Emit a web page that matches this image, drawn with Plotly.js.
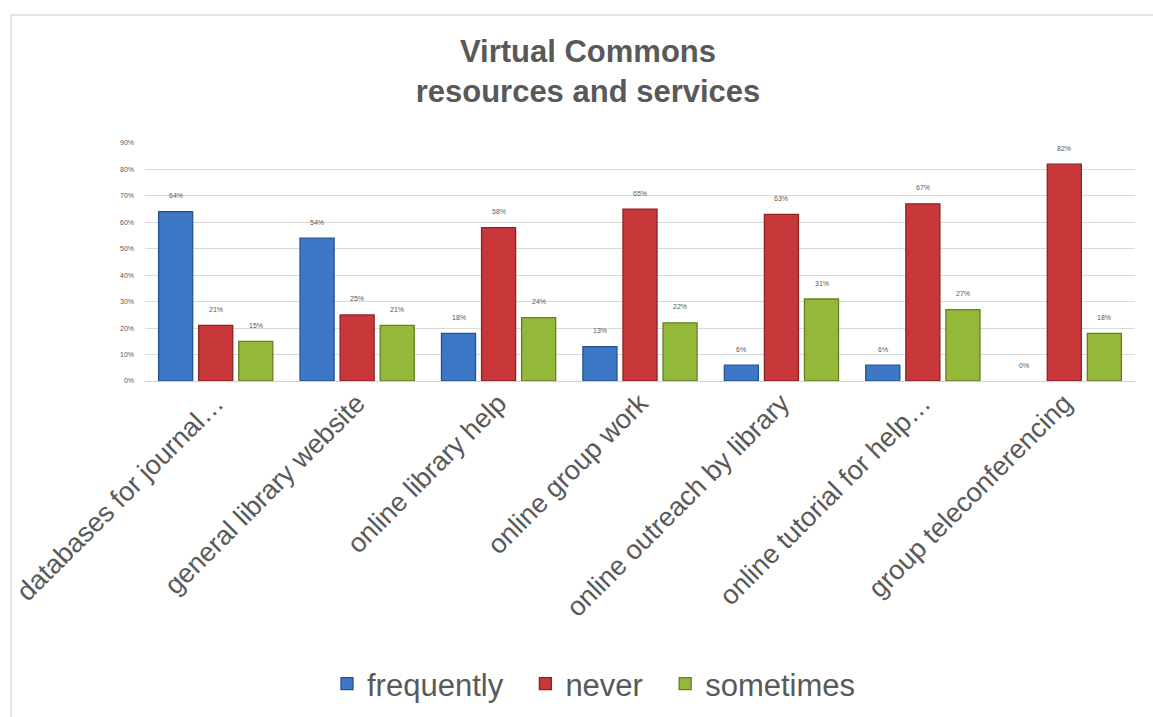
<!DOCTYPE html>
<html>
<head>
<meta charset="utf-8">
<script src="https://cdn.plot.ly/plotly-3.0.1.min.js"></script>
<style>
  html, body { margin: 0; padding: 0; background: #ffffff; overflow: hidden; }
  #chart { position: absolute; left: 0; top: 0; width: 1153px; height: 717px; }
  #frame { position: absolute; left: 10px; top: 14px; width: 1200px; height: 800px;
           border-left: 2px solid #e4e4e4; border-top: 2px solid #e4e4e4; pointer-events: none; }
</style>
</head>
<body>
<div id="chart"></div>
<div id="frame"></div>
<script>
// Survey: how often students use each Virtual Commons resource/service (share of respondents, %)
const categories = [
  "databases for journal…",
  "general library website",
  "online library help",
  "online group work",
  "online outreach by library",
  "online tutorial for help…",
  "group teleconferencing"
];
const frequently = [64, 54, 18, 13, 6, 6, 0];
const never      = [21, 25, 58, 65, 63, 67, 82];
const sometimes  = [15, 21, 24, 22, 31, 27, 18];
const yTicks     = [0, 10, 20, 30, 40, 50, 60, 70, 80, 90];

const seriesNames  = ["frequently", "never", "sometimes"];
const seriesValues = [frequently, never, sometimes];
const fillColors   = ["#3c78c6", "#c8383b", "#93b83a"];
const edgeColors   = ["#24548f", "#8c2326", "#657f22"];

const BARGAP = 0.15;
const GROUPGAP = 0.15;
const textColor = "#595959";
const font = "Liberation Sans, Arial, sans-serif";
const legendPad = "\u00a0\u00a0";   // breathing room between legend entries

const traces = seriesValues.map((vals, i) => ({
  type: "bar",
  name: seriesNames[i] + (i < seriesValues.length - 1 ? legendPad : ""),
  x: categories,
  y: vals,
  marker: {
    color: fillColors[i],
    // no outline on empty bars, so a 0% value leaves no sliver
    line: { color: edgeColors[i], width: vals.map(v => (v > 0 ? 1.3 : 0)) }
  },
  hoverinfo: "x+y+name"
}));

// value labels floating above each bar of the group
const slot = (1 - BARGAP) / seriesValues.length;
const annotations = [];
seriesValues.forEach((vals, s) => {
  const off = (s - (seriesValues.length - 1) / 2) * slot;
  vals.forEach((v, c) => {
    annotations.push({
      xref: "x", yref: "y",
      x: c + off, y: v,
      text: v + "%",
      showarrow: false,
      yanchor: "middle",
      yshift: 16,
      font: { family: font, size: 7, color: textColor }
    });
  });
});

const layout = {
  width: 1153, height: 717,
  margin: { l: 145, r: 18, t: 143, b: 336 },
  paper_bgcolor: "rgba(0,0,0,0)",
  plot_bgcolor: "#ffffff",
  barmode: "group",
  bargap: BARGAP,
  bargroupgap: GROUPGAP,
  title: {
    text: "<b>Virtual Commons<br>resources and services</b>",
    font: { family: font, size: 31, color: textColor },
    x: 588 / 1153, xref: "container", xanchor: "center",
    y: 1 - 62 / 717, yref: "container", yanchor: "top"
  },
  xaxis: {
    type: "category",
    tickangle: -45,
    tickfont: { family: font, size: 27, color: textColor },
    showgrid: false,
    showline: false,
    ticks: "",
    zeroline: false
  },
  yaxis: {
    range: [0, 90],
    tickvals: yTicks,
    ticktext: yTicks.map(t => t + "%"),
    tickfont: { family: font, size: 7, color: textColor },
    showgrid: true,
    gridcolor: "#d9d9d9",
    gridwidth: 1,
    zeroline: true,
    zerolinecolor: "#d0d0d0",
    zerolinewidth: 1,
    showline: false,
    ticks: "",
    ticklabelstandoff: 10
  },
  legend: {
    orientation: "h",
    x: 594 / 1153, xref: "container", xanchor: "center",
    y: 1 - 684 / 717, yref: "container", yanchor: "middle",
    font: { family: font, size: 31, color: textColor },
    itemwidth: 30,
    tracegroupgap: 0
  },
  annotations: annotations,
  showlegend: true
};

Plotly.newPlot("chart", traces, layout, { displayModeBar: false, staticPlot: true });
</script>
</body>
</html>
